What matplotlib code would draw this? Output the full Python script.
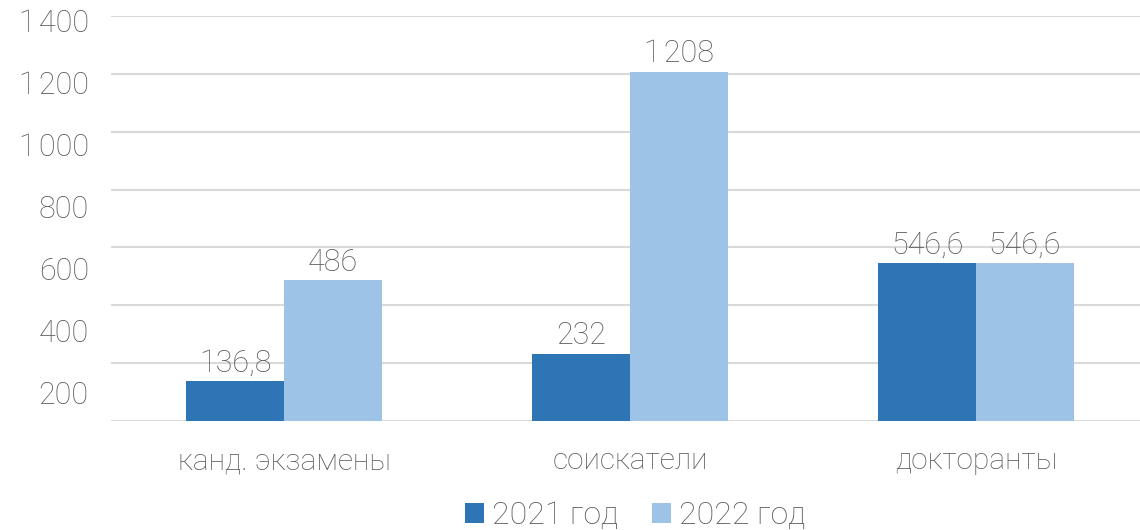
import matplotlib
matplotlib.use("Agg")
import matplotlib.pyplot as plt
import numpy as np

categories = ["канд. экзамены", "соискатели", "докторанты"]
series_names = ["2021 год", "2022 год"]
values_2021 = [136.8, 232, 546.6]
values_2022 = [486, 1208, 546.6]
labels_2021 = ["136,8", "232", "546,6"]
labels_2022 = ["486", "1\u200a208", "546,6"]
ytick_vals = [200, 400, 600, 800, 1000, 1200, 1400]
ytick_labels = ["200", "400", "600", "800", "1\u200a000", "1\u200a200", "1\u200a400"]

plt.rcParams['font.family'] = ['Roboto', 'DejaVu Sans']
plt.rcParams['font.weight'] = 'light'
TXT = '#595959'
C1 = '#2E75B6'
C2 = '#9DC3E6'
GRID = '#D9D9D9'

fig = plt.figure(figsize=(11.4, 5.3), dpi=100)
ax = fig.add_axes([0.0974, 0.2057, 0.9105, 0.7641])

x = np.arange(len(categories))
w = 0.283
b1 = ax.bar(x - w/2, values_2021, w, color=C1, label=series_names[0], zorder=3)
b2 = ax.bar(x + w/2, values_2022, w, color=C2, label=series_names[1], zorder=3)

for rect, lab in zip(b1, labels_2021):
    ax.text(rect.get_x() + rect.get_width()/2, rect.get_height() + 12, lab,
            ha='center', va='bottom', fontsize=22, color=TXT, fontweight='light')
for rect, lab in zip(b2, labels_2022):
    ax.text(rect.get_x() + rect.get_width()/2, rect.get_height() + 12, lab,
            ha='center', va='bottom', fontsize=22, color=TXT, fontweight='light')

ax.set_xlim(-0.5, 2.5)
ax.set_ylim(0, 1400)
ax.set_yticks([0] + ytick_vals)
ax.set_yticklabels([])
ax.tick_params(axis='y', length=0)
ax.grid(axis='y', color=GRID, linewidth=1.5, zorder=0)
ax.set_xticks(x)
ax.set_xticklabels(categories, fontsize=21.5, color=TXT, fontweight='light')
ax.tick_params(axis='x', length=0, pad=19)
for s in ax.spines.values():
    s.set_visible(False)

# label axis (labels in the reference drift slightly from the gridlines)
ax2 = ax.twinx()
ax2.set_ylim(106.5, 1415.9)
ax2.set_yticks(ytick_vals)
ax2.set_yticklabels(ytick_labels, fontsize=22, color=TXT, fontweight='light')
ax2.yaxis.set_ticks_position('left')
ax2.yaxis.set_label_position('left')
ax2.tick_params(axis='y', length=0, pad=16)
for s in ax2.spines.values():
    s.set_visible(False)

leg = fig.legend(handles=[b1, b2], labels=series_names, loc='lower center',
                 bbox_to_anchor=(0.557, -0.055), ncol=2, frameon=False,
                 fontsize=23, handlelength=0.6, handleheight=0.6,
                 handletextpad=0.25, columnspacing=1.05)
for t in leg.get_texts():
    t.set_color(TXT)

fig.savefig("out.png", dpi=100)
